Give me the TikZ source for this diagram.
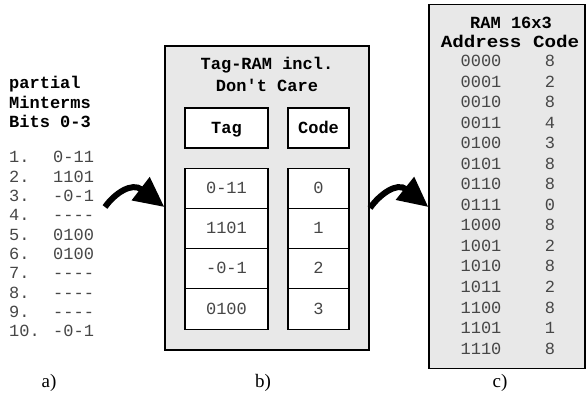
\documentclass[tikz,border=0pt]{standalone}
\usepackage{fontspec}
\usepackage{graphicx}
\setmainfont{Liberation Serif}
\newfontfamily\mono{Liberation Mono}
\usetikzlibrary{arrows.meta}
\definecolor{boxgray}{RGB}{232,232,232}
\definecolor{txtgray}{RGB}{70,70,70}
\tikzset{
  mtext/.style={inner sep=0pt, font=\mono\fontsize{17}{20}\selectfont, text=txtgray},
  btext/.style={inner sep=0pt, font=\mono\bfseries\fontsize{17}{20}\selectfont, text=black},
  outerbox/.style={draw=black, line width=1.3pt, fill=boxgray, inner sep=0pt},
  cell/.style={draw=black, line width=1.2pt, fill=white, inner sep=0pt},
  lbl/.style={inner sep=0pt, font=\fontsize{19}{21}\selectfont},
  bigarrow/.style={line width=6pt, -{Triangle[length=30pt,width=28pt]}}
}
\begin{document}
\begin{tikzpicture}[x=1pt,y=-1pt]
\useasboundingbox (0,0) rectangle (586,395);

% ---- a) list ----
\node[btext, anchor=base west] (h1) at (9,89) {partial};
\node[btext, anchor=base west] (h2) at (9,108.5) {Minterms};
\node[btext, anchor=base west] (h3) at (9,128) {Bits 0-3};
\foreach \i/\v in {1/0-11,2/1101,3/-0-1,4/----,5/0100,6/0100,7/----,8/----,9/----,10/-0-1}{
  \node[mtext, anchor=base west] (n\i) at (9,{163+19.3*(\i-1)}) {\i.};
  \node[mtext, anchor=base west] (v\i) at (53,{163+19.3*(\i-1)}) {\v};
}

% ---- b) Tag-RAM ----
\node[outerbox, minimum width=204pt, minimum height=304pt] (b) at (267,198) {};
\node[btext] (bt1) at (267,65) {Tag-RAM incl.};
\node[btext] (bt2) at (267,85) {Don't Care};
\node[cell, minimum width=83pt, minimum height=40pt] (tagh) at (226.5,128) {};
\node[btext, anchor=base] at ([yshift=-6pt]tagh.center) {Tag};
\node[cell, minimum width=61pt, minimum height=40pt] (codeh) at (318.5,128) {};
\node[btext, anchor=base] at ([yshift=-6pt]codeh.center) {Code};
\foreach \i/\t/\c/\y in {0/0-11/0/188.5,1/1101/1/229,2/-0-1/2/269,3/0100/3/309}{
  \node[cell, minimum width=83pt, minimum height=40.5pt] (tag\i) at (226.5,\y) {};
  \node[mtext, anchor=base] at ([yshift=-5pt]tag\i.center) {\t};
  \node[cell, minimum width=61pt, minimum height=40.5pt] (code\i) at (318.5,\y) {};
  \node[mtext, anchor=base] at ([yshift=-5pt]code\i.center) {\c};
}

% ---- c) RAM 16x3 ----
\node[outerbox, minimum width=156pt, minimum height=364pt] (c) at (507,186.5) {};
\node[btext, anchor=base] (ct1) at (511,29) {RAM 16x3};
\node[btext, anchor=base] (ct2) at (510,48) {\scalebox{1.13}[1]{Address Code}};
\foreach \a/\c [count=\k from 0] in {0000/8,0001/2,0010/8,0011/4,0100/3,0101/8,0110/8,0111/0,1000/8,1001/2,1010/8,1011/2,1100/8,1101/1,1110/8}{
  \node[mtext, anchor=base] (ad\k) at (481,{67+20.5*\k}) {\a};
  \node[mtext, anchor=base] (cd\k) at (550,{67+20.5*\k}) {\c};
}

% ---- labels ----
\node[lbl] (la) at (49,383) {a)};
\node[lbl] (lb) at (263,383) {b)};
\node[lbl] (lc) at (500,383) {c)};

% ---- arrows ----
\coordinate (t1) at (105,207);
\coordinate (t2) at (370,208);
\draw[bigarrow] (t1) .. controls (115,193) and (132,182) .. (b.west |- t1);
\draw[bigarrow] (t2) .. controls (380,194) and (397,182) .. (c.west |- t1);
\end{tikzpicture}
\end{document}
